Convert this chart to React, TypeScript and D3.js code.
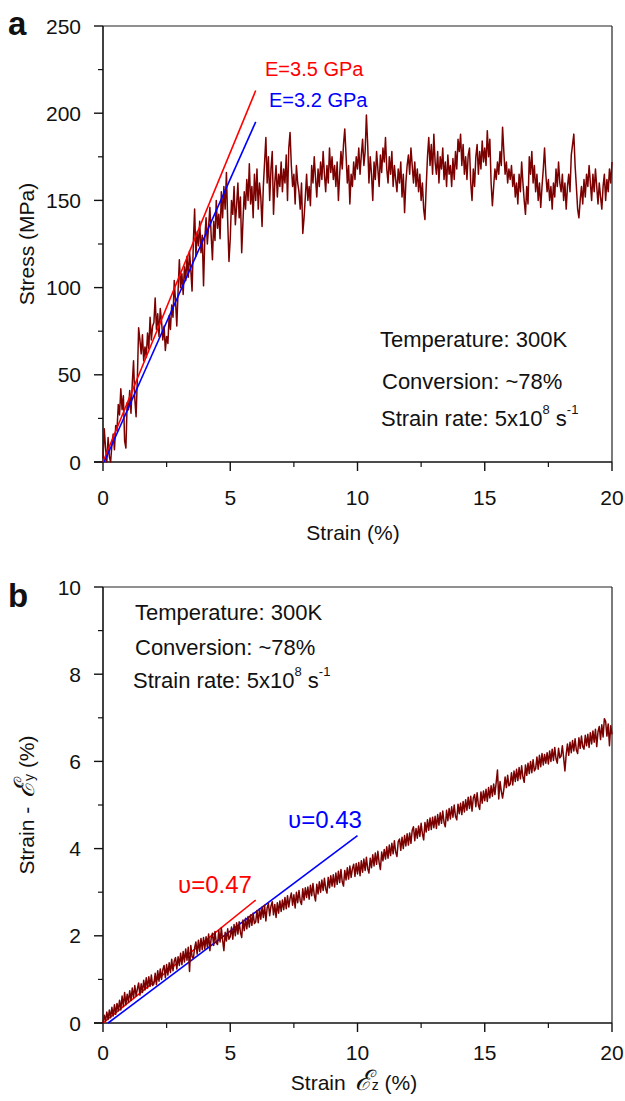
import React from 'react';
import * as d3 from 'd3';

// ---------- data ----------
const STRAIN_STEP = 0.05; // strain (%) between successive samples, 0 .. 20

// Panel a: stress (MPa) vs strain, sampled every 0.05 %
const stressA: number[] = [
  2, 19, 8, 0, 14, 3, 0, 10, 16, 7, 21, 18, 33, 27, 42, 30, 38, 12, 8, 34,
  30, 41, 28, 45, 58, 36, 26, 48, 77, 70, 62, 73, 58, 66, 60, 74, 65, 83, 70, 78,
  80, 94, 76, 85, 72, 88, 81, 70, 78, 64, 72, 68, 84, 76, 90, 83, 104, 92, 78, 98,
  116, 100, 108, 96, 112, 104, 118, 106, 121, 110, 98, 126, 145, 118, 132, 124, 138, 120, 130, 101,
  128, 140, 125, 135, 146, 130, 116, 138, 127, 150, 134, 142, 128, 155, 140, 158, 145, 166, 138, 115,
  128, 150, 142, 158, 136, 147, 160, 140, 152, 120, 138, 155, 145, 162, 150, 171, 148, 158, 140, 165,
  150, 168, 145, 160, 152, 135, 158, 172, 186, 160, 175, 150, 168, 178, 142, 160, 170, 152, 165, 158,
  172, 155, 168, 160, 176, 150, 180, 189, 170, 158, 165, 148, 170, 160, 155, 145, 160, 131, 140, 152,
  165, 150, 158, 147, 170, 160, 175, 163, 152, 168, 158, 172, 162, 178, 165, 155, 170, 160, 180, 166,
  175, 162, 170, 158, 172, 150, 165, 178, 168, 182, 191, 176, 160, 170, 148, 165, 158, 172, 162, 175,
  168, 180, 165, 176, 185, 170, 178, 199, 182, 160, 175, 165, 150, 172, 162, 178, 168, 158, 176, 166,
  180, 172, 186, 168, 160, 175, 165, 178, 158, 170, 162, 155, 168, 160, 172, 152, 165, 143, 160, 170,
  176, 165, 180, 170, 160, 172, 158, 168, 155, 165, 150, 160, 145, 139, 158, 175, 186, 170, 182, 165,
  188, 172, 165, 178, 160, 175, 168, 180, 162, 172, 158, 176, 165, 170, 158, 174, 162, 178, 168, 185,
  178, 188, 170, 182, 165, 175, 162, 176, 180, 160, 150, 168, 158, 175, 182, 165, 178, 168, 184, 172,
  180, 170, 190, 175, 185, 160, 147, 158, 168, 162, 172, 165, 178, 170, 192, 178, 165, 172, 160, 168,
  162, 170, 158, 165, 152, 160, 148, 165, 155, 172, 160, 150, 142, 158, 148, 175, 165, 178, 160, 170,
  155, 165, 150, 160, 146, 158, 168, 180, 165, 155, 162, 150, 158, 145, 160, 152, 168, 158, 172, 160,
  155, 165, 150, 160, 145, 158, 165, 155, 176, 182, 188, 170, 158, 145, 140, 150, 158, 148, 162, 152,
  165, 158, 170, 160, 150, 165, 155, 168, 158, 148, 160, 152, 145, 158, 165, 150, 162, 155, 168, 160, 172,
];

// Panel b: lateral strain -eps_y (%) vs strain eps_z, sampled every 0.05 %
const lateralB: number[] = [
  0.00, 0.18, 0.04, 0.25, 0.08, 0.30, 0.12, 0.36, 0.16, 0.42, 0.20, 0.45, 0.28, 0.52, 0.30, 0.62, 0.38, 0.70, 0.42, 0.66,
  0.48, 0.74, 0.52, 0.80, 0.58, 0.86, 0.62, 0.78, 0.92, 0.64, 0.90, 0.70, 0.98, 0.76, 1.04, 0.80, 1.06, 0.84, 1.10, 0.86,
  0.90, 1.14, 0.88, 1.20, 0.96, 1.24, 1.00, 1.22, 1.32, 1.04, 1.34, 1.10, 1.38, 1.16, 1.46, 1.20, 1.42, 1.50, 1.24, 1.52,
  1.32, 1.60, 1.34, 1.64, 1.40, 1.70, 1.44, 1.74, 1.18, 1.78, 1.52, 1.48, 1.72, 1.86, 1.58, 1.90, 1.64, 1.94, 1.68, 1.96,
  1.70, 1.98, 1.74, 2.04, 1.66, 1.94, 2.06, 1.78, 2.10, 1.84, 1.80, 2.12, 1.86, 2.18, 1.90, 1.66, 2.08, 1.88, 2.16, 1.92,
  1.98, 2.20, 1.92, 2.26, 2.00, 2.30, 2.04, 2.32, 2.08, 1.96, 2.36, 2.12, 2.40, 2.16, 2.44, 2.20, 2.48, 2.24, 2.52, 2.28,
  2.32, 2.58, 2.30, 2.62, 2.38, 2.66, 2.42, 2.70, 2.34, 2.64, 2.74, 2.46, 2.68, 2.78, 2.48, 2.72, 2.42, 2.76, 2.52, 2.80,
  2.56, 2.82, 2.60, 2.88, 2.62, 2.92, 2.66, 2.86, 2.98, 2.70, 2.94, 2.64, 3.00, 2.76, 3.04, 2.80, 2.72, 3.08, 2.82, 3.10,
  2.88, 3.12, 2.84, 3.16, 2.92, 3.20, 2.94, 2.80, 3.18, 2.96, 3.24, 3.00, 3.28, 3.04, 3.32, 3.08, 2.98, 3.34, 3.10, 3.38,
  3.14, 3.40, 3.12, 3.44, 3.18, 3.48, 3.22, 3.52, 3.24, 3.14, 3.50, 3.28, 3.56, 3.30, 3.60, 3.34, 3.54, 3.64, 3.36, 3.66,
  3.42, 3.68, 3.38, 3.72, 3.46, 3.76, 3.50, 3.80, 3.54, 3.44, 3.78, 3.56, 3.86, 3.60, 3.90, 3.64, 3.94, 3.68, 3.52, 3.92,
  3.72, 3.98, 3.76, 4.04, 3.78, 4.08, 3.84, 4.12, 3.88, 4.18, 3.92, 3.82, 4.16, 4.22, 3.96, 4.26, 4.00, 4.30, 4.06, 4.34,
  4.08, 4.36, 4.12, 4.42, 4.50, 4.18, 4.46, 4.24, 4.52, 4.28, 4.58, 4.34, 4.20, 4.60, 4.38, 4.66, 4.42, 4.70, 4.44, 4.72,
  4.48, 4.74, 4.46, 4.78, 4.54, 4.82, 4.58, 4.86, 4.60, 4.50, 4.88, 4.64, 4.92, 4.68, 4.96, 4.72, 5.00, 4.74, 4.66, 5.02,
  4.80, 5.04, 4.78, 5.08, 4.84, 5.12, 4.88, 5.18, 4.92, 5.20, 4.86, 5.16, 5.24, 4.96, 5.28, 5.00, 4.90, 5.30, 5.04, 5.32,
  5.10, 5.36, 5.08, 5.40, 5.16, 5.44, 5.20, 5.48, 5.24, 5.52, 5.80, 5.14, 5.54, 5.32, 5.16, 5.36, 5.64, 5.40, 5.68, 5.44,
  5.48, 5.74, 5.46, 5.78, 5.54, 5.82, 5.56, 5.86, 5.60, 5.90, 5.64, 5.52, 5.92, 5.68, 5.96, 5.72, 6.00, 5.74, 6.04, 5.78,
  5.84, 6.10, 5.82, 6.14, 5.88, 6.18, 5.92, 6.16, 5.96, 6.20, 5.94, 6.24, 6.00, 6.28, 6.02, 6.32, 6.06, 5.96, 6.30, 6.08,
  6.12, 6.36, 6.08, 5.78, 6.16, 6.40, 6.14, 6.44, 6.20, 6.48, 6.24, 6.52, 6.26, 6.18, 6.54, 6.30, 6.58, 6.34, 6.28, 6.60,
  6.36, 6.62, 6.32, 6.66, 6.40, 6.70, 6.44, 6.74, 6.34, 6.68, 6.80, 6.50, 6.84, 6.56, 6.98, 6.92, 6.58, 6.86, 6.36, 6.82, 6.62,
];

const xMajor = [0, 5, 10, 15, 20];
const xMinor = [2.5, 7.5, 12.5, 17.5];
const yMajorA = [0, 50, 100, 150, 200, 250];
const yMinorA = [25, 75, 125, 175, 225];
const yMajorB = [0, 2, 4, 6, 8, 10];
const yMinorB = [1, 3, 5, 7, 9];

// linear fits: [x0, y0, x1, y1]
const fitA35 = [0, 0, 6, 213];
const fitA32 = [0.05, 0, 6, 195];
const fitB47 = [0, 0, 6, 2.82];
const fitB43 = [0.2, 0, 10, 4.3];

const infoLines = ['Temperature: 300K', 'Conversion: ~78%'];

// ---------- drawing ----------
const FONT = "'Liberation Sans', Arial, Helvetica, sans-serif";
const CURVE = '#7b0000';
const LEFT = 103;
const RIGHT = 612;
const H = 436;

function RateText({ x, y }: { x: number; y: number }) {
  return (
    <text x={x} y={y} fontSize={22} fontFamily={FONT} fill="#111">
      Strain rate: 5x10
      <tspan fontSize={13} dy={-12}>8</tspan>
      <tspan fontSize={22} dy={12}> s</tspan>
      <tspan fontSize={13} dy={-12}>-1</tspan>
    </text>
  );
}

function Frame({ top, yMax, yMajor, yMinor, labelGap }: any) {
  const x = d3.scaleLinear().domain([0, 20]).range([LEFT, RIGHT]);
  const y = d3.scaleLinear().domain([0, yMax]).range([top + H, top]);
  const bottom = top + H;
  return (
    <g fontFamily={FONT}>
      <line x1={LEFT} x2={RIGHT} y1={top} y2={top} stroke="#222" strokeWidth={1.2} />
      <line x1={RIGHT} x2={RIGHT} y1={top} y2={bottom} stroke="#222" strokeWidth={1.2} />
      <line x1={LEFT} x2={LEFT} y1={top} y2={bottom} stroke="#111" strokeWidth={1.6} />
      <line x1={LEFT - 9} x2={RIGHT} y1={bottom} y2={bottom} stroke="#111" strokeWidth={1.6} />
      {xMajor.map((v) => (
        <g key={'xm' + v}>
          <line x1={x(v)} x2={x(v)} y1={bottom} y2={bottom + 9} stroke="#111" strokeWidth={1.4} />
          <text x={x(v)} y={bottom + labelGap} fontSize={21} textAnchor="middle" fill="#111">{v}</text>
        </g>
      ))}
      {xMinor.map((v) => (
        <line key={'xn' + v} x1={x(v)} x2={x(v)} y1={bottom} y2={bottom + 5} stroke="#111" strokeWidth={1.2} />
      ))}
      {yMajor.map((v: number) => (
        <g key={'ym' + v}>
          <line x1={LEFT - 9} x2={LEFT} y1={y(v)} y2={y(v)} stroke="#111" strokeWidth={1.4} />
          <text x={LEFT - 22} y={y(v)} dy="0.36em" fontSize={21} textAnchor="end" fill="#111">{v}</text>
        </g>
      ))}
      {yMinor.map((v: number) => (
        <line key={'yn' + v} x1={LEFT - 5} x2={LEFT} y1={y(v)} y2={y(v)} stroke="#111" strokeWidth={1.2} />
      ))}
    </g>
  );
}

export default function App() {
  const x = d3.scaleLinear().domain([0, 20]).range([LEFT, RIGHT]);
  const topA = 26;
  const topB = 587;
  const yA = d3.scaleLinear().domain([0, 250]).range([topA + H, topA]);
  const yB = d3.scaleLinear().domain([0, 10]).range([topB + H, topB]);
  const lineA = d3.line<number>().x((_, i) => x(i * STRAIN_STEP)).y((d) => yA(d));
  const lineB = d3.line<number>().x((_, i) => x(i * STRAIN_STEP)).y((d) => yB(d));
  const seg = (f: number[], ys: any) => ({ x1: x(f[0]), y1: ys(f[1]), x2: x(f[2]), y2: ys(f[3]) });

  return (
    <svg width={625} height={1101} style={{ position: 'absolute', left: 0, top: 0, background: '#fff' }}>
      <rect width={625} height={1101} fill="#fff" />
      {/* Panel a */}
      <text x={8} y={35} fontSize={33} fontWeight="bold" fontFamily={FONT} fill="#111">a</text>
      <Frame top={topA} yMax={250} yMajor={yMajorA} yMinor={yMinorA} labelGap={43} />
      <path d={lineA(stressA) || ''} fill="none" stroke={CURVE} strokeWidth={1.5} strokeLinejoin="round" />
      <line {...seg(fitA35, yA)} stroke="#ff0000" strokeWidth={1.6} />
      <line {...seg(fitA32, yA)} stroke="#0000ff" strokeWidth={1.6} />
      <text x={265} y={76} fontSize={20} fontFamily={FONT} fill="#ff0000">E=3.5 GPa</text>
      <text x={269} y={107} fontSize={20} fontFamily={FONT} fill="#0000ff">E=3.2 GPa</text>
      <text x={380} y={347} fontSize={22} fontFamily={FONT} fill="#111">{infoLines[0]}</text>
      <text x={382} y={389} fontSize={22} fontFamily={FONT} fill="#111">{infoLines[1]}</text>
      <RateText x={381} y={426} />
      <text transform="translate(34,244) rotate(-90)" textAnchor="middle" fontSize={21} fontFamily={FONT} fill="#111">Stress (MPa)</text>
      <text x={353} y={540} textAnchor="middle" fontSize={21} fontFamily={FONT} fill="#111">Strain (%)</text>

      {/* Panel b */}
      <text x={8} y={607} fontSize={33} fontWeight="bold" fontFamily={FONT} fill="#111">b</text>
      <Frame top={topB} yMax={10} yMajor={yMajorB} yMinor={yMinorB} labelGap={37} />
      <line {...seg(fitB47, yB)} stroke="#ff0000" strokeWidth={1.6} />
      <line {...seg(fitB43, yB)} stroke="#0000ff" strokeWidth={1.6} />
      <path d={lineB(lateralB) || ''} fill="none" stroke={CURVE} strokeWidth={1.5} strokeLinejoin="round" />
      <text x={178} y={893} fontSize={24} fontFamily={FONT} fill="#ff0000">υ=0.47</text>
      <text x={288} y={828} fontSize={24} fontFamily={FONT} fill="#0000ff">υ=0.43</text>
      <text x={135} y={620} fontSize={22} fontFamily={FONT} fill="#111">{infoLines[0]}</text>
      <text x={135} y={655} fontSize={22} fontFamily={FONT} fill="#111">{infoLines[1]}</text>
      <RateText x={133} y={688} />
      <text transform="translate(34,805) rotate(-90)" textAnchor="middle" fontSize={21} fontFamily={FONT} fill="#111">
        Strain -
        <tspan fontFamily="'DejaVu Serif', serif" fontStyle="italic" fontSize={28}> ℰ</tspan>
        <tspan fontSize={14}>y</tspan>
        <tspan> (%)</tspan>
      </text>
      <text x={354} y={1090} textAnchor="middle" fontSize={21} fontFamily={FONT} fill="#111">
        Strain
        <tspan fontFamily="'DejaVu Serif', serif" fontStyle="italic" fontSize={28}> ℰ</tspan>
        <tspan fontSize={14}>z</tspan>
        <tspan> (%)</tspan>
      </text>
    </svg>
  );
}
